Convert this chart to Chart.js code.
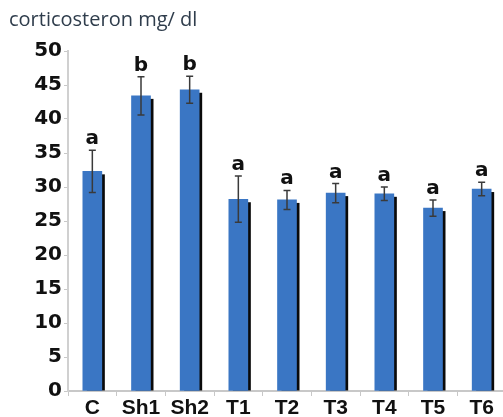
<!DOCTYPE html>
<html>
<head>
<meta charset="utf-8">
<script src="https://cdn.jsdelivr.net/npm/chart.js@4.4.0/dist/chart.umd.min.js"></script>
<style>
  html, body { margin: 0; padding: 0; background: #fff; overflow: hidden; width: 503px; height: 417px; }
  #wrap { position: absolute; left: 0; top: 0; width: 506px; height: 417px; }
</style>
</head>
<body>
<div id="wrap"><canvas id="c" width="506" height="417"></canvas></div>
<script>
const categories = ["C", "Sh1", "Sh2", "T1", "T2", "T3", "T4", "T5", "T6"];
const means = [32.3, 43.4, 44.3, 28.2, 28.1, 29.1, 29.0, 26.9, 29.7];
const errors = [3.1, 2.8, 2.0, 3.4, 1.4, 1.4, 1.0, 1.2, 1.0];
const letters = ["a", "b", "b", "a", "a", "a", "a", "a", "a"];
const yTicks = [0, 5, 10, 15, 20, 25, 30, 35, 40, 45, 50];
const titleText = "corticosteron mg/ dl";

const decorPlugin = {
  id: 'decor',
  beforeDatasetsDraw(chart) {
    const ctx = chart.ctx;
    const meta = chart.getDatasetMeta(0);
    ctx.save();
    ctx.fillStyle = '#0a0a0a';
    meta.data.forEach(bar => {
      const w = bar.width;
      const left = bar.x - w / 2 + 4;
      const top = bar.y + 3;
      ctx.fillRect(left, top, w - 1, bar.base - top);
    });
    ctx.restore();
  },
  afterDatasetsDraw(chart) {
    const ctx = chart.ctx;
    const meta = chart.getDatasetMeta(0);
    const ys = chart.scales.y;
    ctx.save();
    meta.data.forEach((bar, i) => {
      const hi = ys.getPixelForValue(means[i] + errors[i]);
      const lo = ys.getPixelForValue(means[i] - errors[i]);
      const x = bar.x;
      ctx.strokeStyle = '#3a3a3a';
      ctx.lineWidth = 1.5;
      ctx.beginPath();
      ctx.moveTo(x, hi); ctx.lineTo(x, lo);
      ctx.moveTo(x - 3.5, hi); ctx.lineTo(x + 3.5, hi);
      ctx.moveTo(x - 3.5, lo); ctx.lineTo(x + 3.5, lo);
      ctx.stroke();
      ctx.fillStyle = '#111';
      ctx.font = 'bold 20px "DejaVu Sans"';
      ctx.textAlign = 'center';
      ctx.textBaseline = 'alphabetic';
      ctx.fillText(letters[i], x, hi - 6);
    });
    ctx.restore();
  }
};

const chart = new Chart(document.getElementById('c'), {
  type: 'bar',
  data: {
    labels: categories,
    datasets: [{
      data: means,
      backgroundColor: (ctx) => {
        const c = ctx.chart;
        const el = ctx.element;
        if (!c.chartArea || !el || !isFinite(el.x) || !isFinite(el.width)) return '#3a76c4';
        const g = c.ctx.createLinearGradient(el.x - el.width / 2, 0, el.x + el.width / 2, 0);
        g.addColorStop(0, '#3f7fcf');
        g.addColorStop(1, '#3168b4');
        return g;
      },
      borderWidth: 0,
      barThickness: 19,
      categoryPercentage: 1,
      barPercentage: 1
    }]
  },
  options: {
    responsive: false,
    animation: false,
    layout: { padding: { left: 9, right: 0, top: 5, bottom: 0 } },
    plugins: {
      legend: { display: false },
      tooltip: { enabled: false },
      title: {
        display: true,
        text: titleText,
        align: 'start',
        color: '#2f3d4c',
        font: { family: 'Open Sans', size: 20, weight: 'normal' },
        padding: { top: 3, bottom: 19 }
      }
    },
    scales: {
      x: {
        afterFit: (scale) => { scale.height = 26; },
        grid: { display: true, drawOnChartArea: false, tickLength: 5, color: '#c8c8c8', offset: true },
        border: { display: true, color: '#c8c8c8', width: 2 },
        ticks: {
          color: '#111',
          font: { family: 'Liberation Sans', size: 21, weight: 'bold' },
          padding: 0,
          maxRotation: 0,
          autoSkip: false
        }
      },
      y: {
        min: 0,
        max: 50,
        afterBuildTicks: (scale) => { scale.ticks = yTicks.map(v => ({ value: v })); },
        afterFit: (scale) => { scale.width = 59; },
        grid: { display: true, drawOnChartArea: false, tickLength: 4, color: '#c8c8c8' },
        border: { display: true, color: '#d0d0d0', width: 2 },
        ticks: {
          color: '#111',
          font: { family: 'DejaVu Sans', size: 20, weight: 'bold' },
          padding: 2
        }
      }
    }
  },
  plugins: [decorPlugin]
});
</script>
</body>
</html>
